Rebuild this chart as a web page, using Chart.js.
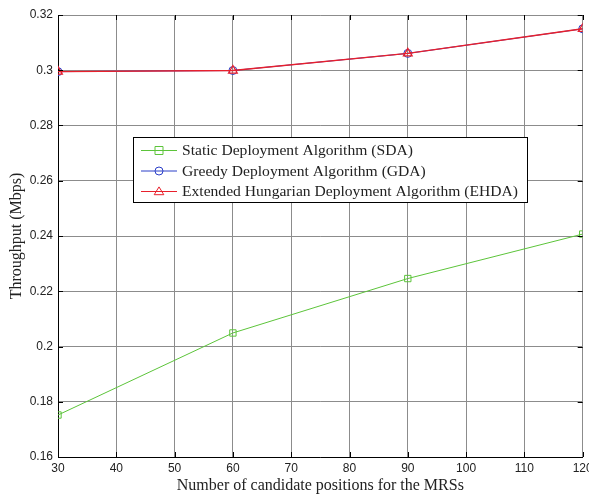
<!DOCTYPE html>
<html>
<head>
<meta charset="utf-8">
<script src="https://cdn.jsdelivr.net/npm/chart.js@4/dist/chart.umd.min.js"></script>
<style>
  html, body { margin: 0; padding: 0; background: #fff; }
  #wrap { width: 589px; height: 495px; }
</style>
</head>
<body>
<div id="wrap"><canvas id="throughputChart" width="589" height="495"></canvas></div>
<script>
// data
const positions = [30, 60, 90, 120];
const sdaValues = [0.1752, 0.2049, 0.2246, 0.2407];
const gdaValues = [0.2995, 0.2999, 0.3061, 0.3150];
const ehdaValues = [0.2995, 0.2999, 0.3061, 0.3150];
const xTicks = [30, 40, 50, 60, 70, 80, 90, 100, 110, 120];
const yTicks = [0.16, 0.18, 0.2, 0.22, 0.24, 0.26, 0.28, 0.3, 0.32];
const seriesLabels = [
    "Static Deployment Algorithm (SDA)",
    "Greedy Deployment Algorithm (GDA)",
    "Extended Hungarian Deployment Algorithm (EHDA)"
];

const green = "#5cc43a";
const blue = "#2b3fc8";
const red = "#e8202c";

function toPoints(vals) {
    return vals.map((v, i) => ({ x: positions[i], y: v }));
}

function drawMarker(ctx, style, x, y, r, color) {
    ctx.save();
    ctx.strokeStyle = color;
    ctx.lineWidth = 1;
    ctx.beginPath();
    if (style === "rect") {
        ctx.rect(x - r, y - r, 2 * r, 2 * r);
    } else if (style === "circle") {
        ctx.arc(x, y, r, 0, Math.PI * 2);
    } else {
        ctx.moveTo(x, y - r * 1.15);
        ctx.lineTo(x + r * 1.2, y + r * 0.8);
        ctx.lineTo(x - r * 1.2, y + r * 0.8);
        ctx.closePath();
    }
    ctx.stroke();
    ctx.restore();
}

// small inward tick marks on all four sides, like matlab
const innerTicks = {
    id: "innerTicks",
    afterDatasetsDraw(chart) {
        const ctx = chart.ctx;
        const a = chart.chartArea;
        const xs = chart.scales.x, ys = chart.scales.y;
        ctx.save();
        ctx.strokeStyle = "#000";
        ctx.lineWidth = 1;
        ctx.beginPath();
        xTicks.forEach(function (t) {
            const px = Math.round(xs.getPixelForValue(t)) + 0.5;
            ctx.moveTo(px, a.bottom); ctx.lineTo(px, a.bottom - 5);
            ctx.moveTo(px, a.top); ctx.lineTo(px, a.top + 5);
        });
        yTicks.forEach(function (t) {
            const py = Math.round(ys.getPixelForValue(t)) + 0.5;
            ctx.moveTo(a.left, py); ctx.lineTo(a.left + 5, py);
            ctx.moveTo(a.right, py); ctx.lineTo(a.right - 5, py);
        });
        ctx.stroke();
        ctx.restore();
    }
};

// boxed legend inside the plot
const boxLegend = {
    id: "boxLegend",
    afterDraw(chart) {
        const ctx = chart.ctx;
        const a = chart.chartArea;
        const left = a.left + 75, top = a.top + 122;
        const w = 394, h = 65;
        ctx.save();
        ctx.fillStyle = "#fff";
        ctx.fillRect(left, top, w, h);
        ctx.strokeStyle = "#000";
        ctx.lineWidth = 1;
        ctx.strokeRect(left + 0.5, top + 0.5, w, h);
        ctx.font = "15.6px 'Liberation Serif', 'Times New Roman', serif";
        ctx.textBaseline = "middle";
        chart.data.datasets.forEach(function (ds, i) {
            const y = top + 13 + i * 20.5;
            ctx.strokeStyle = ds.borderColor;
            ctx.lineWidth = 1;
            ctx.beginPath();
            ctx.moveTo(left + 8, y + 0.5);
            ctx.lineTo(left + 44, y + 0.5);
            ctx.stroke();
            drawMarker(ctx, ds.pointStyle, left + 26, y + 0.5, 4, ds.borderColor);
            ctx.fillStyle = "#222";
            ctx.fillText(ds.label, left + 49, y + 1);
        });
        ctx.restore();
    }
};

const tickFont = { family: "'Liberation Sans', Arial, sans-serif", size: 12 };
const titleFont = { family: "'Liberation Serif', 'Times New Roman', serif", size: 16 };

new Chart(document.getElementById("throughputChart"), {
    type: "line",
    data: {
        datasets: [
            {
                label: seriesLabels[0],
                data: toPoints(sdaValues),
                borderColor: green,
                backgroundColor: "transparent",
                borderWidth: 1,
                pointStyle: "rect",
                pointRadius: 4.5,
                pointBorderWidth: 1,
                order: 2
            },
            {
                label: seriesLabels[1],
                data: toPoints(gdaValues),
                borderColor: blue,
                backgroundColor: "transparent",
                borderWidth: 1,
                pointStyle: "circle",
                pointRadius: 4,
                pointBorderWidth: 1,
                order: 1
            },
            {
                label: seriesLabels[2],
                data: toPoints(ehdaValues),
                borderColor: red,
                backgroundColor: "transparent",
                borderWidth: 1.4,
                pointStyle: "triangle",
                pointRadius: 5,
                pointBorderWidth: 1.3,
                order: 0
            }
        ]
    },
    options: {
        responsive: false,
        animation: false,
        layout: { padding: { top: 15, right: 6, left: 0, bottom: 0 } },
        plugins: {
            legend: { display: false },
            tooltip: { enabled: false }
        },
        scales: {
            x: {
                type: "linear",
                min: 30,
                max: 120,
                afterBuildTicks: function (scale) {
                    scale.ticks = xTicks.map((v) => ({ value: v }));
                },
                afterFit: function (scale) {
                    scale.height = 38;
                    // let the last label hang off the edge, as in the figure
                    scale.paddingRight = 0;
                    scale.paddingLeft = 0;
                },
                ticks: { color: "#222", font: tickFont, padding: 4, maxRotation: 0 },
                grid: { color: "#8c8c8c", lineWidth: 1, drawTicks: false },
                border: { display: true, color: "#000", width: 1 },
                title: {
                    display: true,
                    text: "Number of candidate positions for the MRSs",
                    color: "#222",
                    font: titleFont,
                    padding: { top: 0, bottom: 0 }
                }
            },
            y: {
                min: 0.16,
                max: 0.32,
                afterBuildTicks: function (scale) {
                    scale.ticks = yTicks.map((v) => ({ value: v }));
                },
                afterFit: function (scale) {
                    scale.width = 58;
                    scale.paddingTop = 0;
                    scale.paddingBottom = 0;
                },
                ticks: {
                    color: "#222",
                    font: tickFont,
                    padding: 5,
                    callback: function (v) { return String(Number(v.toFixed(2))); }
                },
                grid: { color: "#8c8c8c", lineWidth: 1, drawTicks: false },
                border: { display: true, color: "#000", width: 1 },
                title: {
                    display: true,
                    text: "Throughput (Mbps)",
                    color: "#222",
                    font: titleFont,
                    padding: { top: 7, bottom: 0 }
                }
            }
        }
    },
    plugins: [innerTicks, boxLegend]
});
</script>
</body>
</html>
